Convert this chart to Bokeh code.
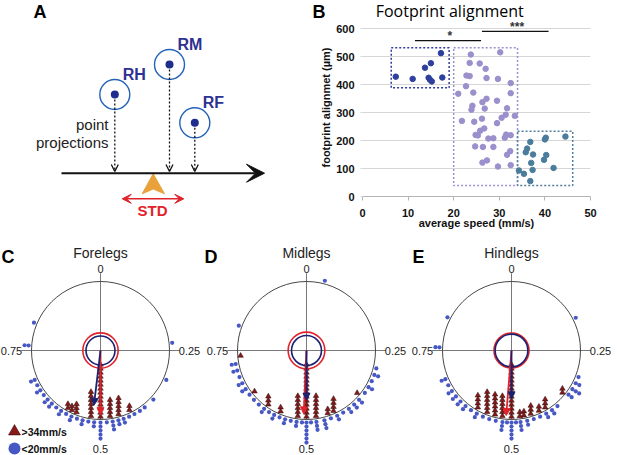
import numpy as np
from bokeh.plotting import figure
from bokeh.models import Range1d, Arrow, NormalHead, VeeHead, OpenHead
from bokeh.layouts import column, row
from bokeh.embed import file_html
from bokeh.resources import INLINE
from bokeh.core.properties import value

FONT = "Liberation Sans"

# ---------------- Panel A (schematic) ----------------
leg_names = ["RH", "RM", "RF"]
leg_x = [114.3, 169.0, 194.3]
leg_y = [94.0, 64.0, 122.3]

# ---------------- Panel B data ----------------
slow_speed = [7.3, 11.0, 13.7, 15.0, 14.5, 14.8, 15.2, 17.2, 17.5]
slow_align = [428, 420, 460, 476, 424, 417, 411, 512, 425]
mid_speed = [23.75, 30.2, 23.5, 25.7, 27.0, 22.8, 23.5, 27.2, 29.7, 32.5,
             22.7, 21.0, 24.3, 32.5, 27.2, 26.3, 29.5, 24.1, 23.9, 26.8,
             31.7, 21.8, 24.5, 26.2, 31.4, 30.5, 33.4, 29.5, 26.7, 25.8,
             24.8, 25.3, 27.6, 28.7, 31.5, 31.2, 32.5, 24.7, 26.4, 28.7,
             32.4, 31.7, 27.3, 26.3, 29.7, 32.5]
mid_align = [507, 515, 477, 475, 456, 432, 430, 423, 420, 405,
             394, 367, 371, 369, 349, 337, 342, 324, 310, 314,
             315, 270, 267, 278, 292, 281, 288, 262, 243, 235,
             220, 218, 207, 208, 221, 210, 219, 179, 177, 177,
             162, 149, 129, 121, 107, 112]
fast_speed = [36.8, 40.2, 40.0, 44.5, 36.1, 35.8, 37.4, 40.3, 39.8, 37.0,
              41.9, 34.3, 35.4, 37.3, 36.8]
fast_align = [195, 210, 204, 214, 171, 158, 150, 148, 131, 120,
              102, 93, 81, 95, 55]
box_left = [6.3, 20.0, 34.0]
box_right = [19.0, 34.0, 46.1]
box_bottom = [388, 39, 39]
box_top = [531, 531, 233]
sig_x0 = [11.5, 26.2]
sig_x1 = [26.0, 40.8]
sig_y = [557, 590]
sig_text = ["*", "***"]
speed_ticks = [0, 10, 20, 30, 40, 50]
align_ticks = [0, 100, 200, 300, 400, 500, 600]

# ---------------- Panels C-E data (phase 0..1) ----------------
fore_fast_phase = [0.428, 0.456, 0.477, 0.5, 0.523, 0.559, 0.571, 0.582]
fore_fast_count = [2, 5, 5, 14, 7, 3, 2, 2]
fore_slow_phase = [0.233, 0.317, 0.369, 0.395, 0.408, 0.422, 0.435, 0.448, 0.46, 0.473,
                   0.486, 0.5, 0.514, 0.527, 0.54, 0.553, 0.566, 0.579, 0.592, 0.605,
                   0.618, 0.631, 0.644, 0.657, 0.67, 0.683, 0.761, 0.813]
fore_slow_count = [1, 1, 1, 1, 1, 1, 1, 2, 2, 3,
                   1, 5, 2, 1, 2, 1, 2, 1, 2, 1,
                   2, 2, 1, 2, 1, 2, 2, 1]
fore_mean_phase = [0.519, 0.5]     # slow, fast
fore_mean_len = [0.80, 0.93]
fore_rings = [0.21, 0.256]

mid_fast_phase = [0.361, 0.433, 0.448, 0.477, 0.5, 0.521, 0.564, 0.598, 0.644, 0.7375]
mid_fast_count = [1, 4, 2, 6, 14, 6, 2, 3, 1, 1]
mid_slow_phase = [0.041, 0.29, 0.305, 0.32, 0.335, 0.35, 0.37, 0.385, 0.40, 0.415,
                  0.43, 0.445, 0.46, 0.478, 0.49, 0.5, 0.51, 0.522, 0.535, 0.548,
                  0.561, 0.574, 0.587, 0.60, 0.615, 0.63, 0.645, 0.66, 0.675, 0.69,
                  0.705, 0.72, 0.806]
mid_slow_count = [1, 1, 2, 1, 2, 1, 2, 2, 2, 1,
                  2, 1, 3, 3, 1, 6, 1, 2, 1, 2,
                  1, 2, 1, 2, 1, 1, 1, 2, 2, 1,
                  2, 2, 1]
mid_mean_phase = [0.5, 0.507]
mid_mean_len = [0.72, 0.92]
mid_rings = [0.217, 0.266]

hind_fast_phase = [0.36, 0.415, 0.432, 0.453, 0.47, 0.48, 0.5, 0.522, 0.54, 0.56, 0.585]
hind_fast_count = [2, 3, 2, 3, 2, 2, 14, 6, 6, 6, 4]
hind_slow_phase = [0.175, 0.31, 0.325, 0.34, 0.355, 0.39, 0.405, 0.42, 0.435, 0.45,
                   0.465, 0.48, 0.49, 0.5, 0.51, 0.52, 0.535, 0.55, 0.565, 0.58,
                   0.595, 0.61, 0.625, 0.64, 0.655, 0.67, 0.685, 0.757, 0.826]
hind_slow_count = [1, 1, 2, 3, 2, 1, 2, 2, 1, 1,
                   2, 3, 1, 5, 1, 3, 1, 1, 1, 2,
                   1, 2, 2, 2, 2, 1, 2, 2, 1]
hind_mean_phase = [0.5, 0.513]
hind_mean_len = [0.70, 0.945]
hind_rings = [0.237, 0.254]

RED = "#e0232a"
NAVY = "#1b2070"
TRI_FILL = "#861a1a"
TRI_LINE = "#2a0505"
DOT = "#4758c4"

TOP_H = 232
BOT_H = 223

# ======================= Panel A =======================
pa = figure(width=333, height=TOP_H, x_range=Range1d(0, 333), y_range=Range1d(TOP_H, 0),
            output_backend="svg", toolbar_location=None,
            x_axis_location=None, y_axis_location=None, min_border=0)
pa.frame_align = False
pa.outline_line_color = None
pa.grid.visible = False

pa.add_layout(Arrow(end=VeeHead(size=18, fill_color="#111111", line_color="#111111"),
                    x_start=61, y_start=172.7, x_end=264, y_end=172.7,
                    line_color="#111111", line_width=2))
for lx, ly in zip(leg_x, leg_y):
    pa.add_layout(Arrow(end=OpenHead(size=7, line_width=1.3, line_color="#111111"),
                        x_start=lx, y_start=ly + 5, x_end=lx, y_end=171,
                        line_color="#111111", line_width=1.3, line_dash="2 2"))
pa.scatter(leg_x, leg_y, size=30, marker="circle", fill_color=None,
           line_color="#2462b8", line_width=1.4)
pa.scatter(leg_x, leg_y, size=8, marker="circle", fill_color="#1f2d8c", line_color=None)
pa.text(x=[lx + 8 for lx in leg_x], y=[ly - 20 for ly in leg_y], text=leg_names,
        text_font=value(FONT), text_font_size="16px", text_font_style="bold",
        text_color="#2e3192", text_align="left", text_baseline="middle")
pa.text(x=[108, 108], y=[124, 142], text=["point", "projections"],
        text_font=value(FONT), text_font_size="15px", text_color="#222222",
        text_align="right", text_baseline="middle")
pa.patch([152.7, 141.7, 152.7, 164.0], [173.3, 193.3, 188.5, 193.3],
         fill_color="#e9a23b", line_color="#e9a23b")
pa.add_layout(Arrow(start=VeeHead(size=9, fill_color=RED, line_color=RED),
                    end=VeeHead(size=9, fill_color=RED, line_color=RED),
                    x_start=121.7, y_start=198.3, x_end=183.3, y_end=198.3,
                    line_color=RED, line_width=1.6))
pa.text(x=[152], y=[209.5], text=["STD"], text_font=value(FONT), text_font_size="15px",
        text_font_style="bold", text_color=RED, text_align="center", text_baseline="middle")
pa.text(x=[33, 312], y=[11.5, 11.5], text=["A", "B"], text_font=value(FONT),
        text_font_size="18px", text_font_style="bold", text_color="black",
        text_align="left", text_baseline="middle")
# y-axis title of panel B (sits left of panel B's canvas)
pa.text(x=[325.5], y=[107], text=["footprint alignmet (µm)"], angle=np.pi / 2,
        text_font=value(FONT), text_font_size="11px", text_font_style="bold",
        text_color="#111111", text_align="center", text_baseline="middle")

# ======================= Panel B =======================
PXU = 168.0 / 600.0          # pixels per alignment unit
pb = figure(width=284, height=TOP_H, x_range=Range1d(0, 50),
            y_range=Range1d(0, 600 + 28 / PXU),
            output_backend="svg", toolbar_location=None,
            min_border_left=29, min_border_right=27, min_border_top=0, min_border_bottom=36)
pb.frame_align = False
pb.outline_line_color = None
pb.xgrid.visible = False
pb.ygrid.grid_line_color = "#d6d6d6"
pb.ygrid.grid_line_width = 1
pb.xaxis.ticker = speed_ticks
pb.yaxis.ticker = align_ticks
pb.xaxis.axis_label = "average speed (mm/s)"
for ax in (pb.xaxis, pb.yaxis):
    ax.axis_label_text_font = FONT
    ax.axis_label_text_font_style = "bold"
    ax.axis_label_text_font_size = "11px"
    ax.axis_label_text_color = "#111111"
    ax.major_label_text_font = FONT
    ax.major_label_text_font_style = "bold"
    ax.major_label_text_font_size = "11px"
    ax.major_label_text_color = "#111111"
    ax.minor_tick_line_color = None
    ax.major_tick_in = 0
pb.xaxis.axis_line_color = "#b5b5b5"
pb.xaxis.major_tick_line_color = "#b5b5b5"
pb.xaxis.major_tick_out = 4
pb.xaxis.major_label_standoff = 8
pb.xaxis.axis_label_standoff = -3
pb.yaxis.axis_line_color = None
pb.yaxis.major_tick_out = 2
pb.yaxis.major_tick_line_color = "#d6d6d6"
pb.yaxis.major_label_standoff = 6

pb.quad(left=box_left, right=box_right, bottom=box_bottom, top=box_top,
        fill_color=None, line_color=["#2e3d9a", "#9a8fcf", "#4f7fa0"],
        line_dash="2 2", line_width=1.5)
pb.scatter(slow_speed, slow_align, size=5.5, color="#2e3f9e")
pb.scatter(mid_speed, mid_align, size=5.5, color="#9b8fcc")
pb.scatter(fast_speed, fast_align, size=5.5, color="#4a7c9c")
pb.segment(x0=sig_x0, y0=sig_y, x1=sig_x1, y1=sig_y, line_color="#111111", line_width=1.3)
pb.text(x=[(a + b) / 2 + 0.4 for a, b in zip(sig_x0, sig_x1)], y=[s + 17 for s in sig_y],
        text=sig_text, text_font=value(FONT), text_font_size="12px", text_font_style="bold",
        text_color="#333333", text_align="center", text_baseline="middle")
pb.text(x=[2.9], y=[662], text=["Footprint alignment"], text_font=value("Open Sans"),
        text_font_size="16px", text_color="black", text_align="left", text_baseline="middle")

# ======================= Panels C-E =======================
S = 69.0
CY = 350.0
TOP, BOT = 232.0, 455.0


def stack_inward(phases, counts, r0=0.958, step=0.058):
    xs, ys = [], []
    for p, c in zip(phases, counts):
        th = 2 * np.pi * p
        bx, by = r0 * np.sin(th), r0 * np.cos(th)
        for k in range(c):
            xs.append(bx)
            ys.append(by + k * step)
    return xs, ys


def stack_outward(phases, counts, r0=1.045, step=0.058):
    xs, ys = [], []
    for p, c in zip(phases, counts):
        th = 2 * np.pi * p
        for k in range(c):
            r = r0 + k * step
            xs.append(r * np.sin(th))
            ys.append(r * np.cos(th))
    return xs, ys


def polar_panel(x0, x1, cx, title, letter, letter_x, fp, fc, sp, sc, mp, ml, rings, legend=False):
    p = figure(width=int(x1 - x0), height=int(BOT - TOP),
               x_range=Range1d((x0 - cx) / S, (x1 - cx) / S),
               y_range=Range1d((CY - BOT) / S, (CY - TOP) / S),
               output_backend="svg", toolbar_location=None,
               x_axis_location=None, y_axis_location=None, min_border=0)
    p.frame_align = False
    p.outline_line_color = None
    p.grid.visible = False
    p.segment(x0=[-1.15, 0], y0=[0, 1.12], x1=[1.15, 0], y1=[0, -1.0],
              line_color="#6a6a6a", line_width=0.9)
    p.circle(x=[0], y=[0], radius=[1.0], fill_color=None, line_color="#333333", line_width=0.9)
    bx, by = stack_outward(sp, sc)
    p.scatter(bx, by, size=4.2, marker="circle", fill_color=DOT, line_color=None)
    tx, ty = stack_inward(fp, fc)
    p.scatter(tx, ty, size=5.5, marker="triangle", fill_color=TRI_FILL,
              line_color=TRI_LINE, line_width=0.5)
    p.circle(x=[0], y=[0], radius=[rings[1]], fill_color=None, line_color=RED, line_width=1.6)
    p.circle(x=[0], y=[0], radius=[rings[0]], fill_color=None, line_color=NAVY, line_width=1.6)
    cols = [NAVY, RED]
    order = [1, 0] if ml[0] < ml[1] else [0, 1]
    for i in order:
        th = 2 * np.pi * mp[i]
        p.add_layout(Arrow(end=NormalHead(size=7, fill_color=cols[i], line_color=cols[i]),
                           x_start=0, y_start=0, x_end=ml[i] * np.sin(th), y_end=ml[i] * np.cos(th),
                           line_color=cols[i], line_width=1.8))
    p.text(x=[0, 1.135, -1.135, 0], y=[1.185, 0, 0, (CY - 448) / S],
           text=["0", "0.25", "0.75", "0.5"],
           text_font=value(FONT), text_font_size="11px", text_color="#222222",
           text_align=["center", "left", "right", "center"], text_baseline="middle")
    p.text(x=[0], y=[1.41], text=[title], text_font=value(FONT), text_font_size="14px",
           text_color="#222222", text_align="center", text_baseline="middle")
    p.text(x=[letter_x], y=[(CY - 256) / S], text=[letter], text_font=value(FONT),
           text_font_size="18px", text_font_style="bold", text_color="black",
           text_align="left", text_baseline="middle")
    if legend:
        ly = [(CY - 431) / S, (CY - 448) / S]
        lx = (14 - cx) / S
        p.scatter([lx], [ly[0]], size=12, marker="triangle", fill_color=TRI_FILL,
                  line_color=TRI_LINE, line_width=0.5)
        p.scatter([lx], [ly[1]], size=12, marker="circle", fill_color=DOT, line_color=None)
        p.text(x=[(21 - cx) / S] * 2, y=ly, text=[">34mm/s", "<20mm/s"],
               text_font=value(FONT), text_font_size="10.5px", text_font_style="bold",
               text_color="#111111", text_align="left", text_baseline="middle")
    return p


pc = polar_panel(0, 202, 100, "Forelegs", "C", (1 - 100) / S,
                 fore_fast_phase, fore_fast_count, fore_slow_phase, fore_slow_count,
                 fore_mean_phase, fore_mean_len, fore_rings, legend=True)
pd_ = polar_panel(202, 409, 306, "Midlegs", "D", (204 - 306) / S,
                  mid_fast_phase, mid_fast_count, mid_slow_phase, mid_slow_count,
                  mid_mean_phase, mid_mean_len, mid_rings)
pe = polar_panel(409, 617, 511, "Hindlegs", "E", (412 - 511) / S,
                 hind_fast_phase, hind_fast_count, hind_slow_phase, hind_slow_count,
                 hind_mean_phase, hind_mean_len, hind_rings)

layout = column(row(pa, pb), row(pc, pd_, pe))
open("out.html", "w").write(file_html(layout, INLINE))
